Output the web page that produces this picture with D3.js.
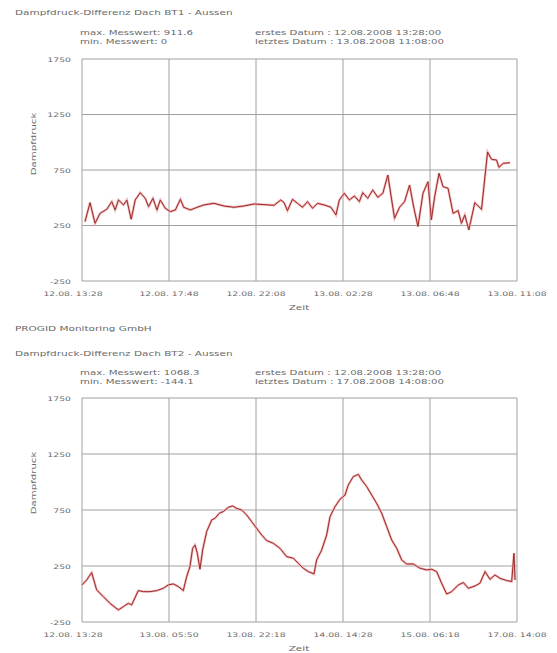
<!DOCTYPE html>
<html>
<head>
<meta charset="utf-8">
<script src="https://cdn.jsdelivr.net/npm/d3@7"></script>
<style>
body { margin: 0; background: #fff; }
svg text { font-family: "DejaVu Sans", sans-serif; fill: #6a6a6a; }
</style>
</head>
<body>
<svg width="557" height="653"></svg>
<script>
// y ticks shared by both charts
var yTicks = [-250, 250, 750, 1250, 1750];

// chart 1: minutes since 12.08. 13:28, value
var t1 = [9, 24, 39, 54, 74, 89, 99, 109, 124, 134, 147, 159, 174, 189, 199, 212, 224, 234, 249, 264, 279, 294, 304, 324, 344, 364, 394, 424, 454, 484, 514, 544, 574, 594, 604, 614, 629, 644, 659, 674, 689, 704, 724, 744, 759, 769, 784, 799, 814, 829, 839, 854, 869, 884, 899, 914, 934, 949, 964, 979, 992, 1004, 1019, 1034, 1044, 1054, 1067, 1079, 1094, 1109, 1124, 1134, 1144, 1156, 1174, 1194, 1212, 1224, 1239, 1246, 1259, 1279];
var v1 = [285, 456, 270, 360, 396, 465, 390, 480, 435, 480, 306, 480, 546, 495, 420, 495, 390, 480, 405, 375, 390, 486, 414, 390, 414, 435, 450, 426, 414, 426, 444, 438, 432, 480, 456, 384, 486, 450, 414, 465, 405, 450, 435, 414, 345, 480, 540, 480, 516, 465, 546, 495, 570, 504, 540, 705, 315, 414, 465, 615, 405, 240, 540, 645, 300, 510, 720, 600, 585, 360, 384, 270, 345, 210, 456, 396, 912, 846, 840, 774, 810, 816];
var xLabels1 = ["12.08. 13:28", "12.08. 17:48", "12.08. 22:08", "13.08. 02:28", "13.08. 06:48", "13.08. 11:08"];

// chart 2
var t2 = [0, 52, 109, 165, 240, 315, 409, 465, 522, 559, 634, 691, 766, 841, 916, 972, 1029, 1085, 1141, 1179, 1216, 1246, 1273, 1299, 1329, 1359, 1404, 1461, 1498, 1547, 1592, 1648, 1697, 1742, 1799, 1855, 1911, 1967, 2024, 2080, 2155, 2230, 2305, 2381, 2437, 2493, 2549, 2613, 2643, 2700, 2756, 2794, 2850, 2906, 2963, 3000, 3056, 3113, 3150, 3207, 3263, 3319, 3376, 3432, 3488, 3545, 3601, 3657, 3732, 3807, 3883, 3939, 3995, 4051, 4108, 4164, 4239, 4296, 4352, 4427, 4483, 4540, 4596, 4652, 4709, 4784, 4840, 4866, 4878];
var v2 = [81, 125, 191, 36, -23, -83, -142, -113, -83, -98, 30, 21, 21, 30, 51, 81, 90, 66, 30, 155, 245, 408, 438, 364, 221, 393, 557, 661, 676, 721, 736, 774, 786, 765, 750, 706, 646, 587, 527, 477, 453, 408, 334, 319, 274, 230, 200, 179, 304, 393, 527, 691, 780, 846, 884, 974, 1048, 1068, 1018, 959, 884, 810, 721, 602, 483, 408, 304, 268, 268, 230, 215, 221, 200, 96, 0, 21, 81, 102, 51, 72, 96, 200, 131, 170, 140, 120, 111, 364, 125];
var xLabels2 = ["12.08. 13:28", "13.08. 05:50", "13.08. 22:18", "14.08. 14:28", "15.08. 06:18", "17.08. 14:08"];

var svg = d3.select("svg");
var SX = 1.5; // the font in the picture is wide and flat

function label(g, x, y, txt, size, anchor, rot) {
	return g.append("text")
		.attr("transform", "translate(" + x + "," + y + ")" + (rot ? " rotate(-90)" : "") + " scale(" + SX + ",1)")
		.attr("font-size", size)
		.attr("text-anchor", anchor || "start")
		.text(txt);
}

function drawChart(top, bottom, t, v, xLabels, step, heads) {
	var left = 82, right = 517;
	var x = d3.scaleLinear().domain([0, step * 5]).range([left, right]);
	var y = d3.scaleLinear().domain([-250, 1750]).range([bottom, top]);
	var g = svg.append("g");

	heads.forEach(function(h) {
		label(g, h[0], h[1], h[2], h[3] || 6.8);
	});

	var xt = d3.range(6).map(function(i) { return i * step; });

	g.selectAll(".hl").data(yTicks).enter().append("line")
		.attr("x1", left).attr("x2", right)
		.attr("y1", function(d) { return y(d); }).attr("y2", function(d) { return y(d); })
		.attr("stroke", "#a0a0a0").attr("stroke-width", 1);
	g.selectAll(".vl").data(xt).enter().append("line")
		.attr("x1", function(d) { return x(d); }).attr("x2", function(d) { return x(d); })
		.attr("y1", top).attr("y2", bottom)
		.attr("stroke", "#a0a0a0").attr("stroke-width", 1);

	yTicks.forEach(function(d) {
		label(g, left - 11, y(d) + 2.5, d, 6.2, "end");
	});
	xt.forEach(function(d, i) {
		label(g, x(d) - (i == 0 ? 9 : 0), bottom + 15, xLabels[i], 6.2, "middle");
	});

	label(g, 299, bottom + 29, "Zeit", 7, "middle");
	label(g, 36, top + 85, "Dampfdruck", 6.8, "middle", true);

	var line = d3.line()
		.x(function(d, i) { return x(t[i]); })
		.y(function(d) { return y(d); });
	g.append("path").datum(v).attr("d", line)
		.attr("fill", "none").attr("stroke", "#f2b4b4").attr("stroke-width", 2.4);
	g.append("path").datum(v).attr("d", line)
		.attr("fill", "none").attr("stroke", "#9a2a2a").attr("stroke-width", 1);
}

drawChart(59, 281, t1, v1, xLabels1, 260, [
	[15, 15, "Dampfdruck-Differenz Dach BT1 - Aussen", 7],
	[80, 35, "max. Messwert: 911.6"],
	[80, 43.5, "min. Messwert: 0"],
	[255, 35, "erstes Datum : 12.08.2008 13:28:00"],
	[255, 43.5, "letztes Datum : 13.08.2008 11:08:00"]
]);

drawChart(398, 622, t2, v2, xLabels2, 980, [
	[15, 331, "PROGID Monitoring GmbH", 7],
	[15, 356, "Dampfdruck-Differenz Dach BT2 - Aussen", 7],
	[80, 375, "max. Messwert: 1068.3"],
	[80, 383.5, "min. Messwert: -144.1"],
	[255, 375, "erstes Datum : 12.08.2008 13:28:00"],
	[255, 383.5, "letztes Datum : 17.08.2008 14:08:00"]
]);
</script>
</body>
</html>
